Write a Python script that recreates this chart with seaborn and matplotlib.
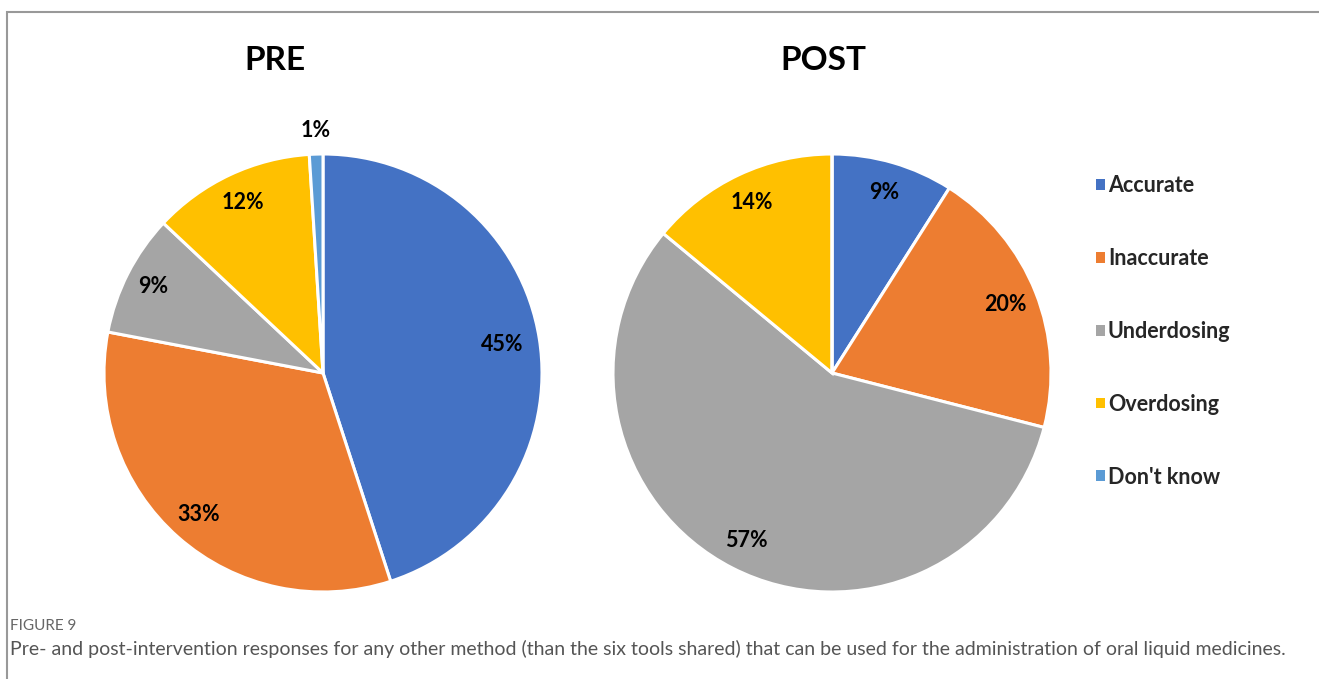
import numpy as np
import seaborn as sns
import matplotlib.pyplot as plt
from matplotlib.patches import Rectangle, Patch

categories = ["Accurate", "Inaccurate", "Underdosing", "Overdosing", "Don't know"]
pre_values = [45, 33, 9, 12, 1]
post_values = [9, 20, 57, 14, 0]
colors = ["#4472C4", "#ED7D31", "#A5A5A5", "#FFC000", "#5B9BD5"]

# label distances (fraction of radius), picked to match the reference layout
pre_label_r = [0.83, 0.86, 0.87, 0.86, 1.11]
post_label_r = [0.86, 0.85, 0.86, 0.86, 0.86]

sns.set_theme(style="white")
plt.rcParams["font.family"] = ["Lato", "DejaVu Sans"]

W, H = 1319, 679
fig = plt.figure(figsize=(W / 100, H / 100), dpi=100)


def draw_pie(cx, cy, r, values, label_r, title, title_x):
    ax = fig.add_axes([(cx - r) / W, (H - cy - r) / H, 2 * r / W, 2 * r / H])
    wedges, _ = ax.pie(values, colors=colors, startangle=90, counterclock=False,
                       radius=1.0, wedgeprops=dict(edgecolor="white", linewidth=2.2))
    ax.set_xlim(-1, 1)
    ax.set_ylim(-1, 1)
    ax.set_aspect("equal")
    ax.axis("off")
    for w, v, d in zip(wedges, values, label_r):
        if v == 0:
            continue
        ang = np.deg2rad((w.theta1 + w.theta2) / 2)
        ax.text(d * np.cos(ang), d * np.sin(ang), f"{v}%", ha="center", va="center",
                fontsize=15.5, fontweight="bold", color="black", clip_on=False)
    fig.text(title_x / W, 1 - 60 / H, title, ha="center", va="center",
             fontsize=24, fontweight="bold", color="black")
    return ax


draw_pie(323, 373, 219, pre_values, pre_label_r, "PRE", 275)
draw_pie(832, 373, 219, post_values, post_label_r, "POST", 823)

handles = [Patch(facecolor=c, edgecolor="none") for c in colors]
fig.legend(handles, categories, loc="upper left", bbox_to_anchor=(1096 / W, 1 - 175 / H),
           frameon=False, handlelength=0.4, handleheight=0.4, handletextpad=0.15,
           borderpad=0, borderaxespad=0,
           labelspacing=2.41, prop=dict(size=15.5, weight="bold"))

# frame around the figure panel
fig.patches.append(Rectangle((7 / W, -0.1), 2, 1.1 - 12 / H, transform=fig.transFigure,
                             fill=False, edgecolor="#999999", linewidth=1.5))

fig.text(10 / W, 1 - 626 / H, "FIGURE 9", ha="left", va="center", fontsize=11, color="#666666")
fig.text(10 / W, 1 - 649 / H,
         "Pre- and post-intervention responses for any other method (than the six tools shared) "
         "that can be used for the administration of oral liquid medicines.",
         ha="left", va="center", fontsize=14, color="#555555")

fig.savefig("out.png", dpi=100)
